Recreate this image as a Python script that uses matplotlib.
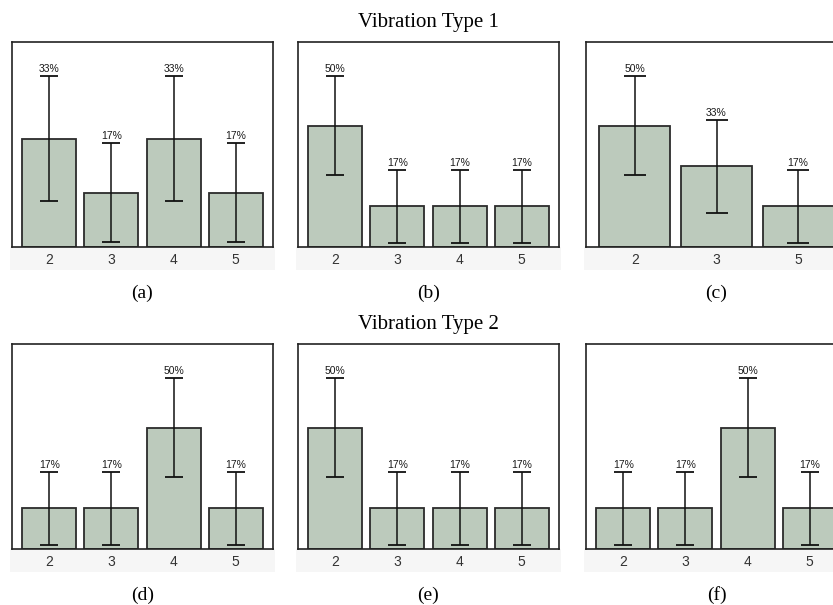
import matplotlib.pyplot as plt
from matplotlib.patches import Rectangle

# panel data: category labels, share of cases (%), standard error (%)
cats_a = ["2", "3", "4", "5"]
pct_a = [33.3, 16.7, 33.3, 16.7]
err_a = [19.2, 15.2, 19.2, 15.2]

cats_b = ["2", "3", "4", "5"]
pct_b = [50.0, 16.7, 16.7, 16.7]
err_b = [20.4, 15.2, 15.2, 15.2]

cats_c = ["2", "3", "5"]
pct_c = [50.0, 33.3, 16.7]
err_c = [20.4, 19.2, 15.2]

cats_d = ["2", "3", "4", "5"]
pct_d = [16.7, 16.7, 50.0, 16.7]
err_d = [15.2, 15.2, 20.4, 15.2]

cats_e = ["2", "3", "4", "5"]
pct_e = [50.0, 16.7, 16.7, 16.7]
err_e = [20.4, 15.2, 15.2, 15.2]

cats_f = ["2", "3", "4", "5"]
pct_f = [16.7, 16.7, 50.0, 16.7]
err_f = [15.2, 15.2, 20.4, 15.2]

panel_tags = ["(a)", "(b)", "(c)", "(d)", "(e)", "(f)"]
row_titles = ["Vibration Type 1", "Vibration Type 2"]

W, H = 833, 605
BAR = "#bccabc"
STRIP = "#f6f6f6"
SERIF = "Liberation Serif"
SANS = "Liberation Sans"


def draw_panel(fig, rect_px, cats, pct, err, tag):
    x0, y0, w, h = rect_px
    # light strip behind the tick labels
    fig.patches.append(Rectangle(((x0 - 2) / W, 1 - (y0 + h + 23) / H), (w + 4) / W, 23 / H,
                                 transform=fig.transFigure, facecolor=STRIP,
                                 edgecolor="none", zorder=-1))
    ax = fig.add_axes([x0 / W, 1 - (y0 + h) / H, w / W, h / H])
    ax.set_zorder(1)
    n = len(cats)
    xs = list(range(n))
    cap = 6.2 * 4.2 / (n + 0.2)
    ax.bar(xs, pct, width=0.87, color=BAR, edgecolor="#2b2b2b", linewidth=1.3, zorder=2)
    ax.errorbar(xs, pct, yerr=err, fmt="none", ecolor="#111111", elinewidth=1.1,
                capsize=cap, capthick=1.3, zorder=3)
    for x, p, e in zip(xs, pct, err):
        ax.annotate(f"{round(p)}%", (x, p + e), xytext=(0, 1.5), textcoords="offset points",
                    ha="center", va="bottom", fontsize=7.5, family=SANS, color="#1a1a1a")
    top = max(p + e for p, e in zip(pct, err)) * 1.2
    ax.set_xlim(-0.6, n - 0.4)
    ax.set_ylim(0, top)
    ax.set_yticks([])
    ax.set_xticks(xs)
    ax.set_xticklabels(cats, fontsize=10, family=SANS, color="#333333")
    ax.tick_params(axis="x", length=0, pad=4)
    for s in ax.spines.values():
        s.set_linewidth(1.2)
        s.set_color("#222222")
    fig.text((x0 + w / 2) / W, 1 - (y0 + h + 46) / H, tag, ha="center", va="center",
             fontsize=14, family=SERIF)
    return ax


def main():
    fig = plt.figure(figsize=(W / 100, H / 100), dpi=100)
    lefts = [12, 298, 586]
    tops = [42, 344]
    width, height = 261, 205
    panels = [
        (cats_a, pct_a, err_a), (cats_b, pct_b, err_b), (cats_c, pct_c, err_c),
        (cats_d, pct_d, err_d), (cats_e, pct_e, err_e), (cats_f, pct_f, err_f),
    ]
    for i, (cats, pct, err) in enumerate(panels):
        r, c = divmod(i, 3)
        draw_panel(fig, (lefts[c], tops[r], width, height), cats, pct, err, panel_tags[i])

    for r, title in enumerate(row_titles):
        fig.text((lefts[1] + width / 2) / W, 1 - (tops[r] - 20) / H, title,
                 ha="center", va="center", fontsize=15, family=SERIF)

    fig.savefig("out.png", dpi=100)


if __name__ == "__main__":
    main()
